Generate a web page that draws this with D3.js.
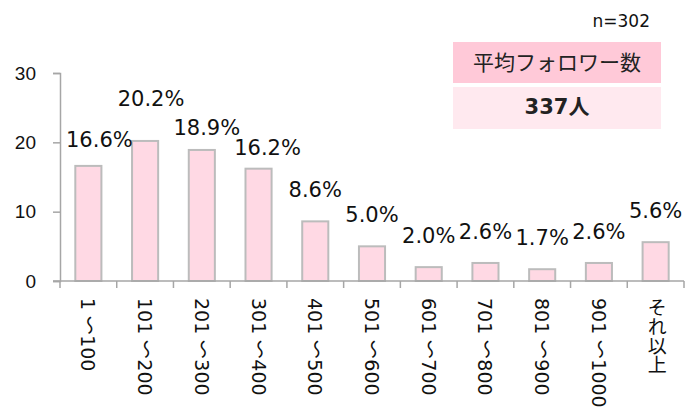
<!DOCTYPE html>
<html>
<head>
<meta charset="utf-8">
<script src="https://cdn.jsdelivr.net/npm/d3@7"></script>
<style>
  body { margin: 0; background: #fff; }
  svg { display: block; font-family: "DejaVu Sans", Verdana, sans-serif; }
</style>
</head>
<body>
<svg id="chart" width="691" height="409"></svg>
<script>
// data
const CATEGORIES = ['1 ～100', '101 ～200', '201 ～300', '301 ～400', '401 ～500',
    '501 ～600', '601 ～700', '701 ～800', '801 ～900', '901 ～1000', 'それ以上'];
const SHARES = [16.6, 20.2, 18.9, 16.2, 8.6, 5.0, 2.0, 2.6, 1.7, 2.6, 5.6];
const Y_TICKS = [0, 10, 20, 30];
const SAMPLE_NOTE = 'n=302';
const AVG_TITLE = '平均フォロワー数';
const AVG_VALUE = '337人';

// labels were hand moved in the original, so a few get nudged [dx, dy]
const LABEL_NUDGE = [[11, 5], [6, -11], [5, 9], [9, 10], [0, 0], [0, 0], [0, 0], [0, 0], [0, 0], [0, 0], [0, 0]];

const SVG1 = d3.select('#chart');
const LEFT = 60, RIGHT = 684, TOP = 73, BOTTOM = 281;
const AXIS_COLOR = '#a6a6a6';

const X_SCALE = d3.scaleBand()
    .domain(CATEGORIES)
    .range([LEFT, RIGHT])
    .paddingInner(0.54)
    .paddingOuter(0.27);

const Y_SCALE = d3.scaleLinear()
    .domain([0, 30])
    .range([BOTTOM, TOP]);

// y axis
const yAxis = SVG1.append('g')
    .attr('transform', `translate(${LEFT},0)`)
    .call(d3.axisLeft(Y_SCALE).tickValues(Y_TICKS).tickSize(7).tickPadding(17));
yAxis.select('.domain').attr('stroke', AXIS_COLOR).attr('stroke-width', 1.5);
yAxis.selectAll('.tick line').attr('stroke', AXIS_COLOR).attr('stroke-width', 1.5);
yAxis.selectAll('.tick text')
    .style('font-size', '19px')
    .style('fill', '#111');

// bars
SVG1.append('g')
    .selectAll('rect')
    .data(SHARES)
    .join('rect')
    .attr('x', (d, i) => X_SCALE(CATEGORIES[i]))
    .attr('y', d => Y_SCALE(d))
    .attr('width', X_SCALE.bandwidth())
    .attr('height', d => BOTTOM - Y_SCALE(d))
    .style('fill', '#ffd9e4')
    .style('stroke', '#bcbcbc')
    .style('stroke-width', 2);

// x axis: line plus ticks at category boundaries
const xAxisG = SVG1.append('g');
xAxisG.append('line')
    .attr('x1', LEFT - 7).attr('x2', RIGHT)
    .attr('y1', BOTTOM).attr('y2', BOTTOM)
    .style('stroke', AXIS_COLOR).style('stroke-width', 1.5);
const bounds = CATEGORIES.map(c => X_SCALE(c) - X_SCALE.step() * X_SCALE.paddingInner() / 2);
bounds.push(RIGHT);
xAxisG.selectAll('.xtick')
    .data(bounds)
    .join('line')
    .attr('class', 'xtick')
    .attr('x1', d => d).attr('x2', d => d)
    .attr('y1', BOTTOM).attr('y2', BOTTOM + 7)
    .style('stroke', AXIS_COLOR).style('stroke-width', 1.5);

// category labels written vertically
xAxisG.selectAll('.xlabel')
    .data(CATEGORIES)
    .join('text')
    .attr('class', 'xlabel')
    .attr('x', d => X_SCALE(d) + X_SCALE.bandwidth() / 2)
    .attr('y', 298)
    .style('writing-mode', 'vertical-rl')
    .style('font-family', '"DejaVu Sans", "Noto Sans CJK JP", sans-serif')
    .style('font-size', '19px')
    .style('fill', '#111')
    .text(d => d);

// value labels
SVG1.append('g')
    .selectAll('text')
    .data(SHARES)
    .join('text')
    .attr('x', (d, i) => X_SCALE(CATEGORIES[i]) + X_SCALE.bandwidth() / 2 + LABEL_NUDGE[i][0])
    .attr('y', (d, i) => Y_SCALE(d) - 24 + LABEL_NUDGE[i][1])
    .style('text-anchor', 'middle')
    .style('font-size', '21px')
    .style('fill', '#111')
    .text(d => d3.format('.1f')(d) + '%');

// sample size
SVG1.append('text')
    .attr('x', 650).attr('y', 27)
    .style('text-anchor', 'end')
    .style('font-size', '17px')
    .style('fill', '#111')
    .text(SAMPLE_NOTE);

// average box
const box = SVG1.append('g');
box.append('rect')
    .attr('x', 453).attr('y', 42).attr('width', 208).attr('height', 41)
    .style('fill', '#ffc9d8');
box.append('rect')
    .attr('x', 453).attr('y', 87).attr('width', 208).attr('height', 42)
    .style('fill', '#ffe9ef');
box.append('text')
    .attr('x', 557).attr('y', 70)
    .style('text-anchor', 'middle')
    .style('font-family', '"Noto Sans CJK JP", sans-serif')
    .style('font-size', '21px')
    .style('fill', '#222')
    .text(AVG_TITLE);
box.append('text')
    .attr('x', 557).attr('y', 114)
    .style('text-anchor', 'middle')
    .style('font-family', '"DejaVu Sans", "Noto Sans CJK JP", sans-serif')
    .style('font-weight', 'bold')
    .style('font-size', '21px')
    .style('fill', '#222')
    .text(AVG_VALUE);
</script>
</body>
</html>
